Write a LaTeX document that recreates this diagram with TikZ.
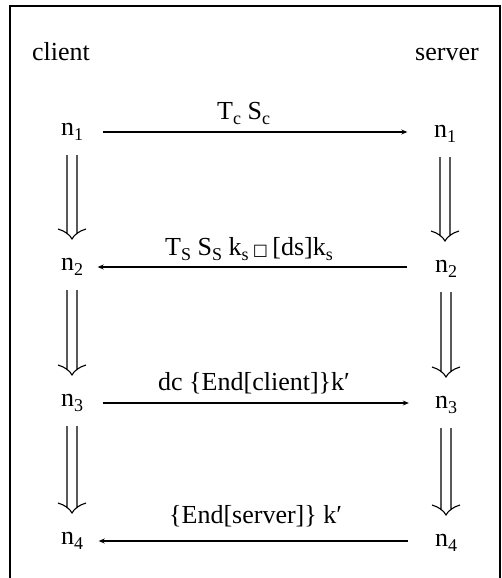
\documentclass[tikz,border=0pt]{standalone}
\usepackage{fontspec}
\setmainfont{Liberation Serif}
\newfontfamily\symfont{DejaVu Sans}
\usetikzlibrary{arrows.meta,calc}
\newcommand{\lsub}[1]{\raisebox{-0.2em}{\fontsize{18pt}{18pt}\selectfont #1}}
\begin{document}
\begin{tikzpicture}[x=1pt,y=-1pt,
  txt/.style={font=\fontsize{26pt}{30pt}\selectfont, inner sep=0pt},
  msg/.style={line width=1.1pt, -{Stealth[length=6pt,width=5pt]}},
  frame/.style={line width=2pt},
  dbl/.style={line width=1.1pt, to path={let \p1=(\tikztostart), \p2=(\tikztotarget) in
     (\x1-5pt,\y1-23pt) -- (\x1-5pt,\y2+33pt)
     (\x1+5pt,\y1-23pt) -- (\x1+5pt,\y2+33pt)
     (\x1-14pt,\y2+38pt) .. controls (\x1-7pt,\y2+36pt) and (\x1-2pt,\y2+32pt) .. (\x1,\y2+28pt)
     .. controls (\x1+2pt,\y2+32pt) and (\x1+7pt,\y2+36pt) .. (\x1+14pt,\y2+38pt)}}]
\useasboundingbox (0,0) rectangle (501,578);
% frame
\draw[frame] (10,578) -- (10,6) -- (499.5,6) -- (499.5,578);
% headers
\node[txt, anchor=base west] (client) at (32,60) {client};
\node[txt, anchor=base west] (server) at (415,60) {server};
% states
\node[txt] (l1) at (72,132) {n\lsub{1}};
\node[txt] (r1) at (445,134) {n\lsub{1}};
\node[txt] (l2) at (72,267) {n\lsub{2}};
\node[txt] (r2) at (446,269) {n\lsub{2}};
\node[txt] (l3) at (72,403) {n\lsub{3}};
\node[txt] (r3) at (446,405) {n\lsub{3}};
\node[txt] (l4) at (72,541) {n\lsub{4}};
\node[txt] (r4) at (446,543) {n\lsub{4}};
% messages
\draw[msg, shorten <=19.5pt, shorten >=26.5pt] (l1.east) -- (l1.east -| r1.west);
\draw[msg, shorten <=28pt, shorten >=14.5pt] (l2.east -| r2.west) -- (l2.east);
\draw[msg, shorten <=19.5pt, shorten >=26pt] (l3.east) -- (l3.east -| r3.west);
\draw[msg, shorten <=27pt, shorten >=15.5pt] (l4.east -| r4.west) -- (l4.east);
% labels
\node[txt, anchor=base west] (m1) at (217,119) {T\lsub{c} S\lsub{c}};
\node[txt, anchor=base west] (m2) at (165,255) {T\lsub{S} S\lsub{S} k\lsub{s}\,{\symfont\fontsize{16pt}{16pt}\selectfont □}\,[ds]k\lsub{s}};
\node[txt, anchor=base west] (m3) at (158,390) {dc \{End[client]\}k′};
\node[txt, anchor=base west] (m4) at (169,523) {\{End[server]\} k′};
% state transitions
\draw[dbl] (l1) to (l2);
\draw[dbl] (l2) to (l3);
\draw[dbl] (l3) to (l4);
\draw[dbl] (r1) to (r2);
\draw[dbl] (r2) to (r3);
\draw[dbl] (r3) to (r4);
\end{tikzpicture}
\end{document}
